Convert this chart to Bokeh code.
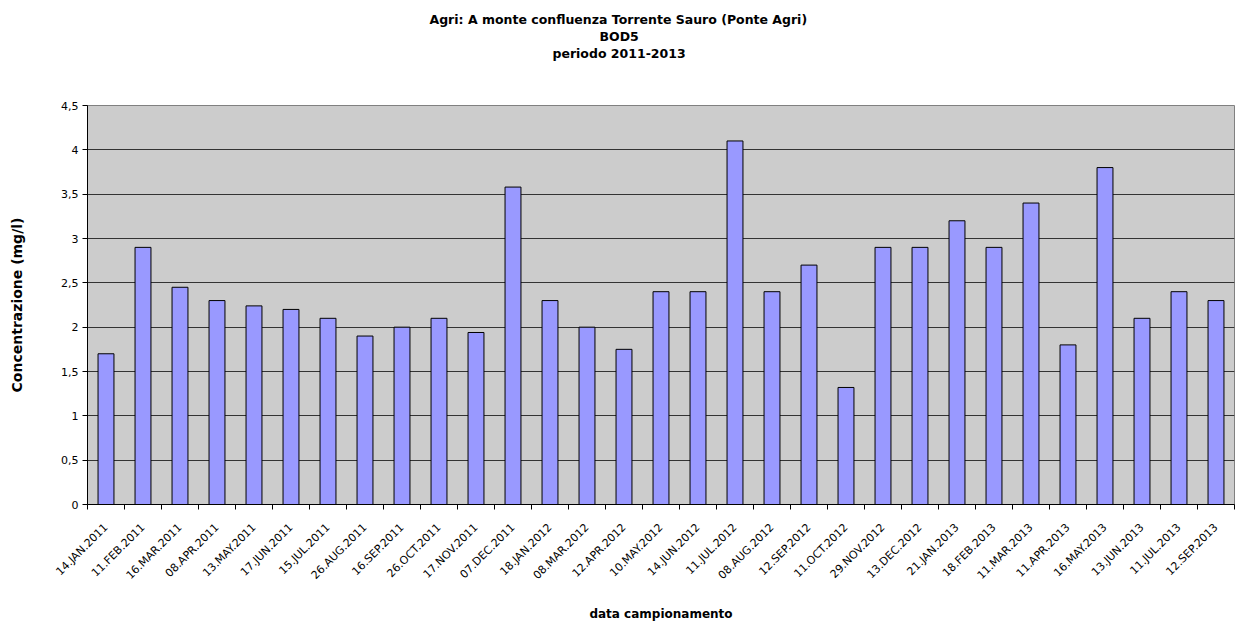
import math
from bokeh.plotting import figure
from bokeh.models import FixedTicker, Range1d, Title
from bokeh.embed import file_html
from bokeh.resources import INLINE

# ---- data ----
dates = ["14.JAN.2011", "11.FEB.2011", "16.MAR.2011", "08.APR.2011", "13.MAY.2011",
         "17.JUN.2011", "15.JUL.2011", "26.AUG.2011", "16.SEP.2011", "26.OCT.2011",
         "17.NOV.2011", "07.DEC.2011", "18.JAN.2012", "08.MAR.2012", "12.APR.2012",
         "10.MAY.2012", "14.JUN.2012", "11.JUL.2012", "08.AUG.2012", "12.SEP.2012",
         "11.OCT.2012", "29.NOV.2012", "13.DEC.2012", "21.JAN.2013", "18.FEB.2013",
         "11.MAR.2013", "11.APR.2013", "16.MAY.2013", "13.JUN.2013", "11.JUL.2013",
         "12.SEP.2013"]
bod5 = [1.7, 2.9, 2.45, 2.3, 2.24, 2.2, 2.1, 1.9, 2.0, 2.1,
        1.94, 3.58, 2.3, 2.0, 1.75, 2.4, 2.4, 4.1, 2.4, 2.7,
        1.32, 2.9, 2.9, 3.2, 2.9, 3.4, 1.8, 3.8, 2.1, 2.4,
        2.3]
y_ticks = [0, 0.5, 1, 1.5, 2, 2.5, 3, 3.5, 4, 4.5]
y_tick_labels = ["0", "0,5", "1", "1,5", "2", "2,5", "3", "3,5", "4", "4,5"]
title_lines = ["Agri: A monte confluenza Torrente Sauro (Ponte Agri)", "BOD5", "periodo 2011-2013"]
x_title = "data campionamento"
y_title = "Concentrazione (mg/l)"

FONT = "DejaVu Sans"
idx = list(range(len(dates)))

p = figure(width=1235, height=624, output_backend="svg", toolbar_location=None,
           x_range=Range1d(-0.5, len(dates) - 0.5), y_range=Range1d(0, 4.5),
           min_border_left=87, min_border_right=1, min_border_top=105, min_border_bottom=111)

p.border_fill_color = "white"
p.background_fill_color = "#CCCCCC"
p.outline_line_color = "#808080"

p.vbar(x=idx, top=bod5, width=0.43, fill_color="#9999FF", line_color="black", line_width=1)

# y axis
p.yaxis.ticker = FixedTicker(ticks=y_ticks)
p.yaxis.major_label_overrides = {t: l for t, l in zip(y_ticks, y_tick_labels)}
p.yaxis.major_label_text_font = FONT
p.yaxis.major_label_text_font_size = "11px"
p.yaxis.major_label_text_color = "black"
p.yaxis.major_tick_out = 5
p.yaxis.major_tick_in = 0
p.yaxis.minor_tick_out = 0
p.yaxis.minor_tick_in = 0
p.yaxis.major_label_standoff = 4
p.yaxis.axis_line_color = "black"
p.yaxis.axis_label = y_title
p.yaxis.axis_label_text_font = FONT
p.yaxis.axis_label_text_font_style = "bold"
p.yaxis.axis_label_text_font_size = "14px"
p.yaxis.axis_label_text_color = "black"
p.yaxis.axis_label_standoff = 33

# x axis
p.xaxis.ticker = FixedTicker(ticks=idx, minor_ticks=[i - 0.5 for i in idx] + [len(idx) - 0.5])
p.xaxis.major_label_overrides = {i: d for i, d in zip(idx, dates)}
p.xaxis.major_label_orientation = math.pi / 4
p.xaxis.major_label_text_font = FONT
p.xaxis.major_label_text_font_size = "11px"
p.xaxis.major_label_text_color = "black"
p.xaxis.major_tick_out = 0
p.xaxis.major_tick_in = 0
p.xaxis.minor_tick_out = 5
p.xaxis.minor_tick_in = 0
p.xaxis.minor_tick_line_color = "black"
p.xaxis.major_label_standoff = 16
p.xaxis.axis_line_color = "black"
p.xaxis.axis_label = x_title
p.xaxis.axis_label_text_font = FONT
p.xaxis.axis_label_text_font_style = "bold"
p.xaxis.axis_label_text_font_size = "12px"
p.xaxis.axis_label_text_color = "black"
p.xaxis.axis_label_standoff = 18

p.xgrid.grid_line_color = None
p.ygrid.grid_line_color = "black"
p.ygrid.grid_line_alpha = 0.75
p.ygrid.grid_line_width = 1

# spacer between the plot area and the title block
p.add_layout(Title(text=" ", standoff=42, text_font_size="1px"), "above")

# multi-line title (added innermost first), left-aligned with offsets so it is centred on the page
offsets = [342, 512, 465]
for txt, off in reversed(list(zip(title_lines, offsets))):
    p.add_layout(Title(text=txt, align="left", offset=off, standoff=0,
                       text_font=FONT, text_font_style="bold", text_font_size="12.5px",
                       text_color="black"), "above")

open("out.html", "w").write(file_html(p, INLINE))
